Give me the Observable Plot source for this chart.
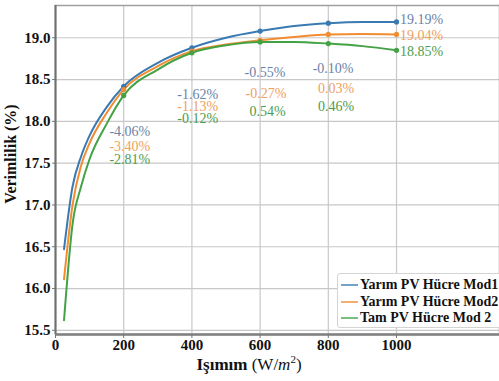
<!DOCTYPE html>
<html><head><meta charset="utf-8">
<script src="https://cdn.jsdelivr.net/npm/d3@7"></script>
<script src="https://cdn.jsdelivr.net/npm/@observablehq/plot@0.6"></script>
<style>
body{margin:0;background:#fff;}
#wrap{position:relative;width:499px;height:381px;overflow:hidden;font-family:"Liberation Serif",serif;}
#wrap svg text{font-family:"Liberation Serif",serif;}
#legend{position:absolute;left:337px;top:273px;width:170px;height:55px;background:#fff;border:1px solid #d4d4d4;border-radius:3px;box-sizing:border-box;padding:3px 0 0 3px;}
.row{display:flex;align-items:center;height:16.5px;font-weight:bold;font-size:14px;color:#111;white-space:nowrap;}
.sw{display:inline-block;width:17px;height:2px;margin-right:2px;}
</style></head><body><div id="wrap"></div>
<script>
// Irradiance (W/m²)
const irradiance = [25, 50, 75, 100, 150, 200, 300, 400, 500, 600, 700, 800, 900, 1000];
// Efficiency (%) per series
const mod1 = [16.47, 17.22, 17.58, 17.83, 18.17, 18.42, 18.70, 18.88, 19.00, 19.08, 19.14, 19.175, 19.19, 19.19];
const mod2 = [16.11, 17.00, 17.47, 17.74, 18.10, 18.38, 18.66, 18.84, 18.92, 18.97, 19.01, 19.04, 19.045, 19.04];
const full = [15.62, 16.77, 17.22, 17.55, 17.97, 18.31, 18.62, 18.82, 18.91, 18.95, 18.95, 18.93, 18.90, 18.85];
const seriesNames = ["Yarım PV Hücre Mod1", "Yarım PV Hücre Mod2", "Tam PV Hücre Mod 2"];
const lineColors = ["#3a7ab3", "#f28c30", "#42a244"];
const labelColors = ["#6a83a8", "#efa060", "#4e9c4e"];
const markerIrr = [200, 400, 600, 800, 1000];
const xTicks = [0, 200, 400, 600, 800, 1000];
const yTicks = [15.5, 16.0, 16.5, 17.0, 17.5, 18.0, 18.5, 19.0];

// Difference annotations
const diffText = ["-4.06%", "-3.40%", "-2.81%", "-1.62%", "-1.13%", "-0.12%", "-0.55%", "-0.27%", "0.54%", "-0.10%", "0.03%", "0.46%"];
const diffSeries = [0, 1, 2, 0, 1, 2, 0, 1, 2, 0, 1, 2];
const diffX = [218, 218, 218, 417, 417, 417, 614, 617, 622, 814, 823, 823];
const diffY = [17.88, 17.70, 17.545, 18.32, 18.18, 18.035, 18.585, 18.333, 18.118, 18.633, 18.393, 18.178];
// End value labels
const endText = ["19.19%", "19.04%", "18.85%"];
const endY = [19.215, 19.03, 18.83];
const endX = 1010;

const allSeries = [mod1, mod2, full];
const rows = [];
allSeries.forEach((vals, s) => irradiance.forEach((g, i) => rows.push({g, v: vals[i], s})));
const markers = rows.filter(d => markerIrr.includes(d.g));
const diffs = diffText.map((t, i) => ({t, s: diffSeries[i], x: diffX[i], y: diffY[i]}));
const ends = endText.map((t, i) => ({t, s: i, x: endX, y: endY[i]}));

const serif = "Liberation Serif, serif";
const chart = Plot.plot({
  width: 499, height: 381,
  marginLeft: 55, marginTop: 5, marginRight: 0, marginBottom: 47,
  style: {fontFamily: serif, fontWeight: "bold", fontSize: "15px", color: "#111", background: "#fff"},
  x: {domain: [0, 1302], ticks: xTicks, label: null},
  y: {domain: [15.45, 19.386], ticks: yTicks, label: null},
  marks: [
    Plot.gridX(xTicks, {stroke: "#c8c8c8", strokeOpacity: 1, strokeWidth: 1.2}),
    Plot.gridY(yTicks, {stroke: "#c8c8c8", strokeOpacity: 1, strokeWidth: 1.2}),
    Plot.frame({stroke: "#a0a0a0", strokeWidth: 1.5}),
    Plot.ruleX([0], {stroke: "#707070", strokeWidth: 2}),
    Plot.ruleY([15.45], {stroke: "#808080", strokeWidth: 2.5}),
    Plot.axisX({ticks: xTicks, tickSize: 4, tickPadding: 1, fontSize: 15, tickFormat: d => `${d}`, label: null, stroke: "#777"}),
    Plot.axisY({ticks: yTicks, tickSize: 3, tickPadding: 2, fontSize: 15, tickFormat: d3.format(".1f"), label: null, stroke: "#777"}),
    Plot.line(rows, {x: "g", y: "v", z: "s", stroke: d => lineColors[d.s], strokeWidth: 2, curve: "monotone-x"}),
    Plot.dot(markers, {x: "g", y: "v", fill: d => lineColors[d.s], r: 2.6, stroke: "none"}),
    Plot.text(diffs, {x: "x", y: "y", text: "t", fill: d => labelColors[d.s], fontSize: 14, fontWeight: "normal", textAnchor: "middle"}),
    Plot.text(ends, {x: "x", y: "y", text: "t", fill: d => labelColors[d.s], fontSize: 14, fontWeight: "normal", textAnchor: "start"})
  ]
});
const wrap = document.getElementById("wrap");
wrap.appendChild(chart);
const svg = d3.select(chart);
// Y axis title
svg.append("text").attr("transform", "translate(16,154) rotate(-90)").attr("text-anchor", "middle")
  .attr("font-weight", "bold").attr("font-size", 16).attr("fill", "#111")
  .text("Verimlilik (%)");
// X axis title
const xt = svg.append("text").attr("x", 249).attr("y", 370).attr("text-anchor", "middle")
  .attr("font-size", 17).attr("fill", "#111").attr("font-weight", "normal");
xt.append("tspan").attr("font-weight", "bold").text("Işımım ");
xt.append("tspan").text("(W/");
xt.append("tspan").attr("font-style", "italic").text("m");
xt.append("tspan").attr("font-size", 11).attr("dy", -7).text("2");
xt.append("tspan").attr("dy", 7).text(")");
// Legend
const lg = document.createElement("div");
lg.id = "legend";
seriesNames.forEach((n, i) => {
  const r = document.createElement("div"); r.className = "row";
  const sw = document.createElement("span"); sw.className = "sw"; sw.style.background = lineColors[i]; sw.style.opacity = 0.7;
  r.appendChild(sw); r.appendChild(document.createTextNode(n)); lg.appendChild(r);
});
wrap.appendChild(lg);
</script></body></html>
